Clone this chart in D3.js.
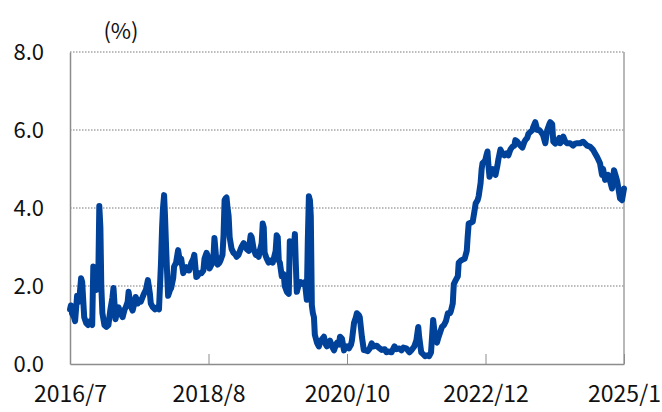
<!DOCTYPE html>
<html>
<head>
<meta charset="utf-8">
<script src="https://cdn.jsdelivr.net/npm/d3@7"></script>
<style>
  html, body { margin: 0; padding: 0; background: #fff; }
  svg { display: block; }
  text { font-family: "Noto Sans CJK JP", "Noto Sans", sans-serif; fill: #111; }
</style>
</head>
<body>
<svg id="chart" width="662" height="412"></svg>
<script>
// ---- data ----
const xTickDates = ["2016-07-01", "2018-08-01", "2020-10-01", "2022-12-01", "2025-01-01"];
const xTickLabels = ["2016/7", "2018/8", "2020/10", "2022/12", "2025/1"];
const yTicks = [0, 2, 4, 6, 8];
const yTickLabels = ["0.0", "2.0", "4.0", "6.0", "8.0"];
const unitLabel = "(%)";

const dates = [
"2016-07-01","2016-07-06","2016-07-12","2016-07-23","2016-07-29","2016-08-09","2016-08-20","2016-08-31","2016-09-06","2016-09-17",
"2016-09-28","2016-10-09","2016-10-20","2016-10-31","2016-11-06","2016-11-17","2016-11-22","2016-12-04","2016-12-09","2016-12-15",
"2016-12-20","2016-12-26","2017-01-06","2017-01-17","2017-01-28","2017-02-08","2017-02-19","2017-02-25","2017-03-08","2017-03-19",
"2017-03-25","2017-04-05","2017-04-16","2017-04-27","2017-05-03","2017-05-14","2017-05-19","2017-05-30","2017-06-10","2017-06-22",
"2017-06-27","2017-07-08","2017-07-14","2017-07-25","2017-08-11","2017-08-22","2017-09-02","2017-09-13","2017-09-18","2017-09-30",
"2017-10-11","2017-10-22","2017-11-02","2017-11-13","2017-11-19","2017-11-24","2017-11-30","2017-12-05","2017-12-11","2017-12-16",
"2017-12-22","2018-01-02","2018-01-08","2018-01-19","2018-01-24","2018-02-04","2018-02-15","2018-02-26","2018-03-04","2018-03-15",
"2018-03-21","2018-04-01","2018-04-12","2018-04-17","2018-04-29","2018-05-10","2018-05-15","2018-05-26","2018-06-01","2018-06-12",
"2018-06-23","2018-07-04","2018-07-10","2018-07-21","2018-07-26","2018-08-07","2018-08-18","2018-08-24","2018-08-30","2018-09-04",
"2018-09-16","2018-09-22","2018-10-03","2018-10-09","2018-10-20","2018-10-26","2018-11-01","2018-11-07","2018-11-12","2018-11-18",
"2018-11-24","2018-11-30","2018-12-11","2018-12-22","2019-01-03","2019-01-09","2019-01-20","2019-02-01","2019-02-06","2019-02-18",
"2019-02-24","2019-03-07","2019-03-19","2019-03-30","2019-04-05","2019-04-16","2019-04-28","2019-05-03","2019-05-15","2019-05-21",
"2019-06-01","2019-06-07","2019-06-13","2019-06-18","2019-06-30","2019-07-11","2019-07-23","2019-08-03","2019-08-09","2019-08-20",
"2019-08-26","2019-09-01","2019-09-07","2019-09-13","2019-09-24","2019-10-05","2019-10-11","2019-10-23","2019-11-03","2019-11-09",
"2019-11-20","2019-12-02","2019-12-08","2019-12-13","2019-12-19","2019-12-31","2020-01-11","2020-01-23","2020-02-03","2020-02-14",
"2020-02-20","2020-02-26","2020-03-03","2020-03-08","2020-03-14","2020-03-20","2020-03-26","2020-03-31","2020-04-12","2020-04-23",
"2020-05-05","2020-05-22","2020-06-02","2020-06-08","2020-06-20","2020-06-26","2020-07-07","2020-07-19","2020-07-30","2020-08-05",
"2020-08-16","2020-08-22","2020-09-02","2020-09-14","2020-09-19","2020-10-01","2020-10-12","2020-10-24","2020-10-29","2020-11-10",
"2020-11-21","2020-11-26","2020-12-08","2020-12-13","2020-12-25","2021-01-05","2021-01-16","2021-01-28","2021-02-08","2021-02-19",
"2021-03-03","2021-03-20","2021-03-31","2021-04-17","2021-05-04","2021-05-15","2021-05-26","2021-06-12","2021-06-29","2021-07-11",
"2021-07-27","2021-08-08","2021-08-19","2021-09-05","2021-09-22","2021-10-03","2021-10-20","2021-11-01","2021-11-12","2021-11-17",
"2021-11-29","2021-12-10","2021-12-21","2022-01-02","2022-01-13","2022-01-24","2022-02-05","2022-02-16","2022-02-27","2022-03-05",
"2022-03-16","2022-03-27","2022-04-08","2022-04-19","2022-04-30","2022-05-12","2022-05-17","2022-05-28","2022-06-03","2022-06-14",
"2022-06-26","2022-07-01","2022-07-13","2022-07-24","2022-08-04","2022-08-16","2022-08-21","2022-08-27","2022-09-07","2022-09-19",
"2022-09-30","2022-10-06","2022-10-17","2022-10-23","2022-11-03","2022-11-09","2022-11-14","2022-11-26","2022-12-01","2022-12-06",
"2022-12-12","2022-12-17","2022-12-23","2023-01-03","2023-01-08","2023-01-19","2023-01-25","2023-02-05","2023-02-10","2023-02-21",
"2023-03-04","2023-03-15","2023-03-26","2023-04-06","2023-04-17","2023-04-28","2023-05-09","2023-05-14","2023-05-25","2023-05-31",
"2023-06-11","2023-06-22","2023-07-03","2023-07-08","2023-07-19","2023-07-25","2023-08-05","2023-08-16","2023-08-21","2023-09-01",
"2023-09-12","2023-09-23","2023-09-29","2023-10-10","2023-10-15","2023-10-26","2023-11-06","2023-11-17","2023-11-22","2023-12-03",
"2023-12-09","2023-12-20","2023-12-31","2024-01-11","2024-01-16","2024-01-27","2024-02-02","2024-02-13","2024-02-24","2024-03-11",
"2024-03-27","2024-04-07","2024-04-18","2024-05-05","2024-05-21","2024-06-01","2024-06-12","2024-06-29","2024-07-15","2024-07-26",
"2024-08-06","2024-08-17","2024-08-22","2024-09-02","2024-09-08","2024-09-19","2024-09-24","2024-10-05","2024-10-16","2024-10-27",
"2024-11-07","2024-11-18","2024-11-24","2024-12-05","2024-12-10","2024-12-21","2025-01-01"
];

const rates = [
1.4,1.5,1.3,1.2,1.1,1.75,1.6,2.2,2.1,1.2,
1.05,1.0,1.1,1.0,2.5,2.2,1.9,2.4,4.05,3.5,
2.0,1.3,1.0,0.95,1.0,1.4,1.7,1.95,1.15,1.4,
1.45,1.3,1.2,1.4,1.45,1.6,1.85,1.5,1.37,1.6,
1.72,1.55,1.64,1.6,1.8,1.9,2.15,1.8,1.55,1.45,
1.4,1.45,1.4,2.6,3.5,4.0,4.33,3.8,3.0,2.4,
1.75,1.9,1.95,2.2,2.5,2.6,2.92,2.6,2.7,2.33,
2.4,2.48,2.4,2.4,2.6,2.7,2.8,2.23,2.25,2.33,
2.33,2.4,2.7,2.85,2.8,2.45,2.55,2.6,2.8,3.23,
2.6,2.55,2.6,2.66,2.8,3.3,4.2,4.25,4.27,4.0,
3.8,3.25,2.95,2.85,2.8,2.75,2.8,2.95,3.0,3.1,
3.05,2.95,2.9,3.3,3.25,2.95,2.8,2.85,2.75,2.9,
3.1,3.6,3.5,2.85,2.7,2.6,2.65,2.6,2.7,2.9,
3.3,3.25,2.65,2.6,2.25,2.3,2.0,1.85,1.8,3.15,
3.0,2.95,3.33,2.6,1.85,2.05,2.1,2.05,2.1,1.65,
3.2,4.3,4.2,3.8,1.5,1.3,1.2,0.75,0.55,0.45,
0.6,0.7,0.5,0.45,0.55,0.6,0.45,0.35,0.5,0.55,
0.5,0.7,0.65,0.35,0.4,0.45,0.4,0.5,0.6,1.05,
1.2,1.3,1.25,1.2,0.7,0.36,0.35,0.33,0.4,0.53,
0.45,0.47,0.42,0.36,0.38,0.3,0.32,0.3,0.45,0.38,
0.4,0.35,0.42,0.4,0.3,0.35,0.45,0.6,0.95,0.7,
0.3,0.25,0.2,0.22,0.2,0.3,1.13,0.7,0.55,0.65,
0.8,0.95,1.0,1.1,1.3,1.3,1.35,1.55,2.05,2.15,
2.25,2.6,2.65,2.68,2.7,2.9,3.25,3.6,3.62,3.65,
3.95,4.12,4.2,4.3,4.64,5.0,5.15,5.2,5.25,5.35,
5.45,5.1,4.8,4.95,5.0,4.9,4.85,5.1,5.25,5.5,
5.4,5.35,5.4,5.35,5.5,5.57,5.6,5.74,5.7,5.66,
5.6,5.55,5.7,5.74,5.8,5.9,5.95,6.0,6.08,6.2,
6.0,6.0,5.97,5.9,5.85,5.66,6.0,6.15,6.2,6.15,
5.7,5.65,5.7,5.8,5.66,5.75,5.83,5.7,5.66,5.66,
5.6,5.65,5.66,5.66,5.7,5.65,5.6,5.57,5.49,5.4,
5.31,5.2,5.15,4.85,5.0,4.72,4.8,4.85,4.7,4.5,
4.97,4.8,4.7,4.4,4.25,4.2,4.5
];

// ---- chart ----
const W = 662, H = 412;
const margin = { left: 70, right: 38, top: 52, bottom: 48 };
const plotW = W - margin.left - margin.right;
const plotH = H - margin.top - margin.bottom;
const parse = d3.timeParse("%Y-%m-%d");
const FONT = '"Noto Sans CJK JP", "Noto Sans", sans-serif';

const svg = d3.select("#chart");

const tickDates = xTickDates.map(parse);
const x = d3.scaleTime()
  .domain(tickDates)
  .range(tickDates.map((d, i) => margin.left + i * plotW / (tickDates.length - 1)));
const y = d3.scaleLinear().domain([0, 8]).range([margin.top + plotH, margin.top]);

const data = dates.map((d, i) => ({ date: parse(d), value: rates[i] }));

// gridlines
svg.append("g")
  .selectAll("line")
  .data(yTicks.filter(v => v > 0))
  .join("line")
  .attr("x1", margin.left).attr("x2", margin.left + plotW)
  .attr("y1", d => y(d)).attr("y2", d => y(d))
  .attr("stroke", "#a6a6a6")
  .attr("stroke-width", 1.5)
  .attr("stroke-dasharray", "1.5,1.5");

// right border
svg.append("line")
  .attr("x1", margin.left + plotW).attr("x2", margin.left + plotW)
  .attr("y1", margin.top).attr("y2", margin.top + plotH)
  .attr("stroke", "#a0a0a0").attr("stroke-width", 1.5);

// x axis
const xAxis = d3.axisBottom(x)
  .tickValues(tickDates)
  .tickFormat((d, i) => xTickLabels[i])
  .tickSizeInner(-10)
  .tickSizeOuter(0)
  .tickPadding(22);
const gx = svg.append("g")
  .attr("transform", `translate(0,${margin.top + plotH})`)
  .call(xAxis);
gx.select(".domain").attr("stroke", "#8c8c8c").attr("stroke-width", 1.5);
gx.selectAll(".tick line").attr("stroke", "#8c8c8c").attr("stroke-width", 1);
gx.selectAll(".tick text")
  .attr("font-size", 23)
  .attr("font-family", FONT)
  .attr("fill", "#111");

// y axis
const yAxis = d3.axisLeft(y)
  .tickValues(yTicks)
  .tickFormat((d, i) => yTickLabels[i])
  .tickSize(0)
  .tickPadding(26);
const gy = svg.append("g")
  .attr("transform", `translate(${margin.left},0)`)
  .call(yAxis);
gy.select(".domain").attr("stroke", "#8c8c8c").attr("stroke-width", 1.5);
gy.selectAll(".tick text")
  .attr("font-size", 22)
  .attr("font-family", FONT)
  .attr("fill", "#111");

// unit label
svg.append("text")
  .attr("x", 121).attr("y", 33)
  .attr("text-anchor", "middle")
  .attr("dominant-baseline", "middle")
  .attr("font-size", 22)
  .attr("font-family", FONT)
  .text(unitLabel);

// line
const line = d3.line()
  .x(d => x(d.date))
  .y(d => y(d.value));
svg.append("path")
  .datum(data)
  .attr("fill", "none")
  .attr("stroke", "#00419a")
  .attr("stroke-width", 6)
  .attr("stroke-linejoin", "round")
  .attr("stroke-linecap", "round")
  .attr("d", line);
</script>
</body>
</html>
